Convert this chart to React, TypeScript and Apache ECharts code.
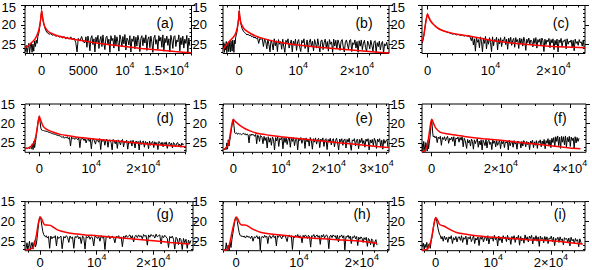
import React, { useEffect, useRef } from "react";
import * as echarts from "echarts";

// ---- data (x in units of 1000) ----
// Each black trace: an explicit part around the peak, then a uniformly sampled noisy band.
const aPeakX = [-1.95,-1.85,-1.75,-1.65,-1.55,-1.45,-1.35,-1.25,-1.15,-1.05,-0.95,-0.85,-0.75,-0.65,-0.55,-0.45,-0.35,-0.25,-0.15,-0.08,0,0.08,0.15,0.25,0.35,0.5,0.7,0.9,1.1,1.3,1.5,1.7,1.9,2.1,2.3,2.5,2.7,2.9,3.1,3.3,3.5,3.7,3.9,4.1,4.25,4.4,4.6,4.8,5.0];
const aPeakY = [26.9,25.3,27.2,25.9,24.8,27.2,25.5,24.6,27.1,25.0,26.8,24.2,25.6,23.9,24.8,22.9,22.2,20.9,19.2,17.8,16.5,17.6,18.6,19.6,20.5,21.5,22.1,22.4,22.3,22.7,22.5,23.0,22.7,23.2,22.9,23.4,23.0,23.6,23.2,23.7,23.1,23.9,23.4,24.6,27.0,23.5,24.2,23.0,24.4];
const aBandStart = 5.2, aBandStep = 0.12;
const aBandY = [24.6,23.1,25.8,22.9,24.2,26.7,23.4,22.8,25.1,23.6,27.0,23.2,24.5,22.7,26.1,23.9,23.0,25.6,22.6,24.8,26.4,23.3,22.9,25.0,23.7,27.1,22.8,24.1,23.5,26.0,22.7,25.3,23.1,24.4,26.8,22.6,23.8,25.7,23.0,24.9,22.5,26.5,23.4,23.9,25.2,22.8,27.0,23.6,24.3,22.9,26.2,23.2,25.5,22.7,24.0,26.9,23.5,22.8,25.4,23.3,24.7,22.6,26.6,23.7,23.1,25.9,22.9,24.5,27.1,23.4,22.7,25.0,23.8,26.3,22.8,24.2,23.2,25.8,22.6,26.8,23.5,24.6,22.9,25.3,23.6,27.0,22.7,24.0,26.1,23.1,22.8,25.6,23.9,24.4,22.6,26.7,23.3,25.1,22.9,26.0,23.7,24.8,22.7,27.1,23.4,25.4];
const aRedX = [-2,-1.5,-1,-0.7,-0.4,-0.2,-0.1,0,0.1,0.2,0.4,0.7,1,1.5,2,3,4,5,6,8,10,12,14,16,18];
const aRedY = [26.0,25.2,24.2,23.3,21.8,19.8,18.2,16.3,17.8,19.2,20.6,21.5,22.0,22.5,22.9,23.4,23.8,24.1,24.5,25.1,25.6,26.1,26.5,26.9,27.2];

const bPeakX = [-2.7,-2.6,-2.5,-2.4,-2.3,-2.2,-2.1,-2.0,-1.9,-1.8,-1.7,-1.6,-1.5,-1.4,-1.3,-1.2,-1.1,-1.0,-0.9,-0.8,-0.7,-0.6,-0.5,-0.4,-0.3,-0.2,-0.1,0,0.1,0.2,0.35,0.5,0.7,0.9,1.1,1.3,1.5,1.7,1.9,2.1,2.3,2.5,2.7,2.9,3.1,3.3,3.5,3.7,3.9,4.1,4.3];
const bPeakY = [26.2,24.6,27.1,25.0,26.5,24.3,27.2,25.4,24.8,26.9,24.4,25.9,27.0,24.1,25.5,26.8,23.9,25.2,27.1,24.0,24.9,23.2,22.6,22.0,21.0,19.6,18.0,16.4,17.8,19.0,20.2,21.0,21.6,22.0,22.2,22.6,22.4,22.8,22.6,23.1,22.9,23.4,23.1,23.6,23.3,24.8,23.5,23.8,23.4,25.6,23.7];
const bBandStart = 4.5, bBandStep = 0.18;
const bBandY = [24.4,26.2,23.7,25.1,27.0,23.9,24.8,26.5,23.6,25.4,24.1,26.9,23.8,25.0,24.3,26.3,23.7,25.7,27.1,24.0,24.6,23.6,26.0,24.9,23.9,27.0,24.2,25.3,23.7,26.6,24.4,23.8,25.8,26.9,24.0,24.7,23.6,26.1,25.2,23.9,27.1,24.5,23.7,25.6,24.2,26.7,23.8,24.9,26.0,23.6,25.3,27.0,24.1,23.9,26.4,24.6,23.7,25.9,24.3,26.8,23.8,25.0,24.4,27.1,23.7,25.5,24.0,26.2,23.9,24.8,26.6,24.2,23.8,25.7,27.0,24.5,23.9,25.2,26.3,24.0,23.8,26.9,24.6,25.1,23.9,26.0,24.3,27.1,24.1,25.5,23.9,26.4,24.7,24.0,25.8,27.0,24.2,24.9,26.2,24.0,25.3,26.8,24.4,24.1,27.1,24.6,25.6,24.2,26.5,24.8,24.3,27.2,24.9,25.4,24.5,26.3];
const bRedX = [-2.75,-2,-1.5,-1,-0.6,-0.3,-0.1,0,0.1,0.3,0.6,1,2,3,4,6,8,10,13,16,20,23,25.4];
const bRedY = [26.4,24.8,24.0,23.2,22.2,20.5,18.5,16.3,18.0,19.5,20.5,21.3,22.3,23.0,23.5,24.3,24.8,25.2,25.7,26.1,26.6,27.0,27.3];

const cPeakX = [-0.85,-0.7,-0.55,-0.4,-0.25,-0.12,0,0.12,0.3,0.5,0.75,1.0,1.3,1.6,1.9,2.2,2.5,2.8,3.1,3.4,3.7,4.0,4.3,4.6,4.9,5.2,5.5,5.8,6.1,6.4,6.65];
const cPeakY = [24.7,23.9,22.4,20.6,19.0,17.9,17.3,17.8,18.5,19.1,19.6,20.0,20.4,20.8,21.0,21.3,21.5,21.7,21.9,22.0,22.2,22.4,22.3,22.6,22.5,22.7,22.6,22.9,22.7,23.0,22.8];
const cBandStart = 6.8, cBandStep = 0.16;
const cBandY = [23.4,24.1,23.0,25.2,23.6,26.8,23.2,24.5,23.8,25.9,23.1,24.3,27.0,23.5,24.8,23.0,26.2,23.7,25.0,23.3,24.6,26.9,23.1,25.4,23.8,24.2,23.2,26.5,23.6,24.9,23.3,25.6,23.9,24.1,23.1,25.1,23.7,26.3,23.4,24.7,23.2,25.3,24.0,23.5,25.8,23.3,24.4,23.8,26.1,23.4,24.9,23.6,25.5,23.2,24.2,26.6,23.7,24.6,23.4,25.0,23.9,24.3,25.7,23.5,24.8,23.3,26.0,23.8,24.5,23.6,25.4,23.4,24.1,26.9,23.7,25.1,23.9,24.4,23.5,25.9,23.8,24.7,23.6,26.4,24.0,25.2,23.7,27.0,23.9,24.6,23.5,25.6,24.1,24.3,23.8,26.2,23.6,25.0,24.2,24.5,23.9,25.8,24.0,26.7,23.7,24.8,24.3,25.3,23.8,24.6,24.4,25.5,23.9,26.1];
const cRedX = [-0.9,-0.6,-0.4,-0.2,0,0.2,0.5,1,1.5,2,3,4,5,7,10,13,16,20,25];
const cRedY = [24.3,22.8,20.5,18.5,17.1,18.0,19.0,20.0,20.7,21.2,21.8,22.2,22.5,23.0,24.0,24.6,25.1,25.6,25.9];

const dPeakX = [-2.7,-2.5,-2.3,-2.1,-1.9,-1.7,-1.5,-1.35,-1.2,-1.05,-0.9,-0.75,-0.6,-0.45,-0.3,-0.15,0,0.15,0.3,0.45,0.6,0.8,1.0,1.3,1.6,1.9,2.2,2.5,2.8,3.1,3.4,3.7,4.0];
const dPeakY = [26.4,26.3,26.5,26.2,26.4,26.3,26.5,25.2,26.7,24.6,26.2,24.9,23.4,21.8,20.0,18.9,18.3,19.6,21.2,21.7,21.8,21.8,21.9,22.0,22.1,22.3,22.4,22.6,22.7,22.8,23.0,23.1,23.2];
const dBandStart = 4.2, dBandStep = 0.2;
const dBandY = [23.4,23.6,23.3,23.8,23.5,23.7,23.4,24.0,23.6,25.8,23.5,23.9,23.7,24.1,23.6,23.8,24.2,23.7,26.2,23.9,24.0,23.8,24.4,23.9,25.0,24.1,23.8,24.6,24.0,26.5,24.2,23.9,24.5,25.3,24.0,24.3,24.8,23.9,26.7,24.2,24.6,24.1,25.6,24.3,24.0,26.1,24.4,24.2,24.9,26.8,24.1,24.5,25.2,24.3,26.4,24.2,24.7,25.5,24.4,24.1,26.0,24.5,24.9,24.3,26.6,24.6,25.1,24.4,25.8,24.3,24.8,26.3,24.5,25.0,24.6,26.8,24.4,25.4,24.7,24.5,26.1,24.6,25.2,24.8,26.5,24.5,25.6,24.9,24.6,26.2,24.7,25.3,24.9,26.7,24.6,25.0,25.5,24.8,26.0,24.9,25.4,24.7,26.4,25.1,24.8,25.7,25.0,26.3,24.9,25.2,26.0,25.1,24.9,25.8,25.3,26.1,25.0,25.5,25.2];
const dRedX = [-2.75,-2,-1.2,-0.8,-0.5,-0.2,0,0.2,0.5,0.8,1.2,2,3,4,5,7,10,13,16,20,24,28.2];
const dRedY = [26.5,26.2,25.3,24.0,22.0,19.5,18.1,18.9,20.0,20.8,21.3,21.9,22.4,22.8,23.0,23.5,23.9,24.3,24.6,25.2,25.6,26.0];

const ePeakX = [-2.1,-1.95,-1.8,-1.65,-1.5,-1.35,-1.2,-1.05,-0.9,-0.75,-0.6,-0.45,-0.3,-0.15,0,0.15,0.3,0.5,0.7,0.9,1.1,1.3,1.5,1.7,1.9,2.1,2.3,2.5,2.7,2.9,3.1,3.3,3.5,3.7,3.9,4.1,4.3,4.5,4.7,4.9,5.1,5.3,5.5,5.7];
const ePeakY = [26.9,26.6,26.8,26.5,26.7,25.0,26.6,24.2,25.8,24.5,23.4,22.0,20.8,19.6,19.0,20.6,22.4,22.6,22.4,22.8,22.5,22.7,22.6,22.9,22.7,22.5,22.8,22.6,23.0,22.7,22.9,25.0,22.8,23.1,22.7,23.0,22.9,23.3,22.8,25.2,23.0,23.2,24.6,23.1];
const eBandStart = 6.0, eBandStep = 0.22;
const eBandY = [23.5,25.2,23.3,24.4,23.6,26.3,23.4,24.8,23.7,25.6,23.5,24.1,26.8,23.6,24.5,23.4,25.9,23.8,24.2,23.5,26.5,23.7,24.9,23.6,25.4,24.0,23.5,26.1,23.8,24.6,23.6,25.7,24.1,23.7,26.8,23.9,24.4,23.6,25.1,24.2,23.8,26.4,23.7,24.7,24.0,25.8,23.6,24.3,26.6,23.9,24.8,23.7,25.3,24.1,23.8,26.2,24.0,24.5,23.7,25.9,24.2,23.9,26.7,24.1,24.6,23.8,25.5,24.3,23.9,26.0,24.4,23.8,25.0,26.8,24.0,24.7,23.9,25.6,24.2,24.0,26.3,24.1,24.8,23.8,25.3,26.9,24.2,24.5,23.9,25.8,24.3,24.0,26.5,24.1,24.9,23.8,25.2,24.4,26.1,24.0,24.6,23.9,26.8,24.2,25.0,24.1,25.7,23.8,24.5,26.4,24.0,24.7,23.9,25.9,24.3,26.6,24.1,25.1,24.4,24.2,26.2];
const eRedX = [-2.15,-1.6,-1.1,-0.8,-0.5,-0.25,0,0.2,0.5,1.0,1.6,2.4,3.5,5.2,7.5,10,13,16,20,25,30,32.6];
const eRedY = [26.7,26.3,25.6,24.0,21.7,20.0,18.9,19.2,19.6,20.1,20.7,21.3,21.9,22.6,23.0,23.4,23.8,24.2,24.7,25.3,25.9,26.2];

const fPeakX = [-2.7,-2.5,-2.3,-2.1,-1.9,-1.7,-1.5,-1.3,-1.1,-0.9,-0.7,-0.5,-0.35,-0.2,-0.1,0,0.15,0.3,0.45,0.7,1.0,1.3,1.6,1.9,2.2,2.5,2.8,3.1,3.4,3.7,4.0,4.3,4.6,4.9,5.2,5.5,5.8,6.1,6.4,6.7,7.0,7.3,7.6,7.9,8.2,8.5,8.8,9.1,9.4,9.7];
const fPeakY = [25.2,27.0,24.6,26.3,27.2,24.9,25.8,27.1,24.4,26.5,25.0,23.6,22.0,20.4,19.4,19.0,20.6,22.5,23.4,23.2,23.7,23.3,24.9,23.5,23.9,23.3,25.6,23.6,24.1,23.4,24.5,23.7,23.3,25.1,23.8,24.2,23.5,24.6,23.4,25.8,23.7,24.0,23.5,24.8,23.6,24.3,23.4,26.0,23.8,24.4];
const fBandStart = 10.1, fBandStep = 0.28;
const fBandY = [26.4,24.1,25.0,24.3,25.8,24.0,24.6,26.6,24.2,25.2,24.4,24.0,26.1,24.5,25.5,24.2,26.8,24.3,24.9,25.7,24.1,26.3,24.6,24.3,25.4,24.8,26.7,24.2,25.1,24.5,26.0,24.4,25.6,24.9,24.3,26.5,24.6,25.2,24.4,26.2,24.7,25.0,24.5,26.8,24.3,25.7,24.8,24.6,26.1,24.4,25.3,24.9,26.6,24.5,25.1,24.7,26.3,24.6,25.8,24.4,24.9,26.0,24.6,25.4,24.8,26.7,24.5,25.0,24.3,26.2,24.7,25.6,24.4,26.4,24.6,24.9,24.2,26.0,24.5,25.3,24.1,26.5,24.4,25.1,23.9,25.8,24.2,26.2,23.8,24.9,23.6,26.0,23.4,24.6,23.2,25.7,23.5,26.4,23.3,24.8,23.4,25.5,23.2,26.1,23.6,24.7,23.3,25.9,23.5,24.4,23.7,26.3,23.4,25.0,23.6,24.6,23.8];
const fRedX = [-2.8,-2,-1.4,-1,-0.6,-0.3,0,0.3,0.7,1.2,2.4,4,7.2,10,15,20,25,30,35,40,43];
const fRedY = [27.3,27.0,26.0,24.3,21.8,20.0,18.9,19.4,20.3,21.2,22.2,22.6,23.0,23.4,23.9,24.3,24.8,25.3,25.8,26.3,26.5];

const gPeakX = [-2.6,-2.45,-2.3,-2.15,-2.0,-1.85,-1.7,-1.55,-1.4,-1.25,-1.1,-0.95,-0.8,-0.65,-0.5,-0.35,-0.2,-0.1,0,0.1,0.2,0.35,0.5,0.65,0.8,0.95,1.1,1.3,1.5,1.7,1.9,2.1,2.3,2.5,2.7,2.9,3.1,3.3,3.5,3.7,3.9];
const gPeakY = [27.2,26.8,25.4,27.1,26.2,25.0,27.2,26.0,25.3,27.0,25.6,24.9,26.4,25.8,24.0,22.0,20.0,19.2,18.8,19.0,19.8,21.3,22.6,23.3,23.7,23.9,23.6,24.2,23.8,26.8,23.7,24.4,23.9,24.1,23.6,26.2,23.8,24.3,24.0,23.7,26.9];
const gBandStart = 4.2, gBandStep = 0.22;
const gBandY = [23.8,24.2,23.6,24.0,25.3,23.7,24.3,23.9,26.8,23.8,24.1,23.6,24.4,23.9,25.6,23.7,24.0,27.0,23.8,24.2,23.6,24.5,23.9,24.1,26.2,23.7,23.9,24.3,23.8,25.0,23.6,24.2,23.9,27.1,23.8,24.0,23.6,24.4,23.9,23.7,24.2,25.4,23.8,24.0,23.6,24.3,23.9,26.4,23.7,24.1,23.5,24.0,23.7,23.4,24.2,23.6,25.2,23.8,23.5,24.1,23.4,23.9,23.6,24.4,23.3,23.8,23.5,26.0,23.4,24.0,23.3,23.7,23.5,24.2,23.2,23.9,23.6,23.4,25.7,23.6,24.1,23.5,23.9,24.3,26.6,23.8,24.2,23.7,24.5,27.0,24.0,24.4,25.9,24.2,24.6,27.1,24.3,25.4,24.5,26.8,24.7,25.6,24.8];
const gRedX = [-2.65,-1.8,-1.2,-0.9,-0.6,-0.3,0,0.3,0.6,0.9,1.2,1.8,2.4,2.9,3.8,4.7,6,8,10,13,16,20,23,26.4];
const gRedY = [27.3,27.0,26.6,25.2,23.2,20.5,18.9,19.4,20.4,20.9,20.9,21.0,21.5,22.0,22.5,22.8,23.1,23.4,23.6,24.0,24.4,24.9,25.3,25.7];

const hPeakX = [-2.0,-1.85,-1.7,-1.55,-1.4,-1.25,-1.1,-0.95,-0.8,-0.65,-0.5,-0.35,-0.2,-0.1,0,0.1,0.2,0.35,0.5,0.65,0.8,0.95,1.1,1.3,1.5,1.7,1.9,2.1,2.3,2.5,2.7,2.9,3.1,3.3,3.5,3.7,3.85,4.0];
const hPeakY = [27.3,27.1,27.3,25.4,27.2,26.0,27.3,25.2,26.6,24.5,23.0,21.5,20.0,19.3,18.9,19.2,20.0,21.5,22.8,23.5,23.8,23.6,23.9,23.7,24.2,23.6,24.0,23.8,24.3,23.7,25.0,23.9,24.1,23.6,24.4,23.8,27.2,24.0];
const hBandStart = 4.2, hBandStep = 0.17;
const hBandY = [23.8,24.2,23.5,24.0,23.7,25.6,23.8,23.6,24.3,23.9,23.5,24.1,23.7,26.2,23.6,24.0,23.4,23.9,24.4,23.6,23.8,23.5,24.2,25.1,23.7,23.4,24.0,23.6,27.1,23.8,24.1,23.5,23.9,23.3,24.2,23.6,23.8,25.4,23.5,24.0,23.4,23.7,24.3,23.5,23.9,26.5,23.6,23.8,23.3,24.1,23.7,23.4,24.0,23.6,25.8,23.5,23.9,23.3,24.2,23.6,23.4,24.0,26.9,23.7,23.5,24.1,23.4,23.8,23.6,24.4,23.5,25.2,23.7,23.9,23.4,24.2,23.6,27.2,23.8,24.0,23.5,24.3,23.7,25.6,23.9,24.1,23.6,24.4,23.8,26.1,24.0,24.5,23.9,24.2,25.3,24.1,24.6,24.0,26.3,24.3,24.7,25.9,24.4,24.8,26.5,25.2,24.6,26.0];
const hRedX = [-2.05,-1.4,-1.0,-0.7,-0.4,0,0.3,0.6,0.9,1.3,1.7,2.3,3,4,5.5,7.5,10,13,16,20,22.4];
const hRedY = [27.3,27.1,25.5,23.2,21.0,18.9,19.4,20.5,20.9,20.9,21.0,21.6,22.2,22.8,23.2,23.5,24.0,24.3,24.6,25.0,25.5];

const iPeakX = [-2.3,-2.15,-2.0,-1.85,-1.7,-1.55,-1.4,-1.25,-1.1,-0.95,-0.8,-0.65,-0.5,-0.35,-0.2,-0.1,0,0.1,0.2,0.35,0.5,0.65,0.8,0.95,1.1,1.3,1.5,1.7,1.9,2.1,2.3,2.5,2.7,2.9,3.1,3.3,3.5,3.7,3.9];
const iPeakY = [26.4,25.5,27.0,25.8,26.6,25.3,27.1,25.9,25.6,26.8,25.1,24.0,22.6,21.0,19.8,19.3,19.1,19.4,20.1,21.4,22.4,23.2,23.6,24.4,23.8,25.0,23.7,24.6,24.0,25.3,23.9,24.4,23.6,25.6,24.1,24.7,23.8,25.2,24.0];
const iBandStart = 4.1, iBandStep = 0.19;
const iBandY = [23.9,24.8,23.6,25.3,24.1,24.5,23.7,25.9,24.0,24.4,23.8,25.1,24.3,23.6,25.6,24.2,24.7,23.9,26.1,24.0,24.5,23.7,25.2,24.2,23.8,24.9,23.6,25.7,24.1,24.4,23.9,25.0,23.5,24.6,24.0,26.2,23.7,24.8,24.2,25.4,23.6,24.3,23.9,25.1,23.5,24.7,24.1,25.8,23.8,24.5,23.6,25.3,24.0,24.4,23.5,26.0,23.8,24.9,24.2,25.5,23.4,24.6,23.9,25.2,23.7,24.3,23.5,25.7,24.0,24.8,23.6,25.0,23.9,26.3,23.7,24.5,24.1,25.4,23.8,24.7,23.9,25.6,24.2,24.4,23.7,25.1,24.0,26.1,24.3,24.6,24.0,25.3,23.9,24.8,24.4,25.9,24.1,24.5,24.3,25.2,24.2,26.2,24.0,24.9,24.5,25.6,24.3,25.0,24.6,26.4,24.4,25.3,25.8];
const iRedX = [-2.38,-1.5,-1.0,-0.7,-0.4,-0.2,0,0.3,0.6,1.0,1.5,2.2,3.6,5,7,10,13,16,20,23,25.5];
const iRedY = [27.3,27.0,25.8,24.0,21.5,20.0,19.0,19.6,20.6,21.0,21.2,21.8,22.8,23.2,23.6,24.0,24.3,24.6,24.9,25.3,25.7];

const panelLabels = ["(a)", "(b)", "(c)", "(d)", "(e)", "(f)", "(g)", "(h)", "(i)"];
const yTicks = [15, 20, 25];
const xTicksA = [0, 5, 10, 15];
const xTicks2 = [0, 10, 20];
const xTicks3 = [0, 10, 20, 30];
const xTicks4 = [0, 20, 40];

// ---- layout ----
const FONT = "'Liberation Sans', Arial, Helvetica, sans-serif";
const Y_MIN = 15;
const Y_MAX = 27.4;

type Panel = {
  px: number[]; py: number[]; bs: number; bst: number; band: number[];
  rx: number[]; ry: number[];
  xMin: number; xMax: number; major: number[]; minorStep: number;
  box: [number, number, number, number];
  lab: [number, number];
  yMargin: number; xMargin: number; top: boolean;
};

const panels: Panel[] = [
  { px: aPeakX, py: aPeakY, bs: aBandStart, bst: aBandStep, band: aBandY, rx: aRedX, ry: aRedY, xMin: -2, xMax: 18, major: xTicksA, minorStep: 1, box: [25, 5.5, 191.5, 53.5], lab: [165, 23], yMargin: 9, xMargin: 6.5, top: true },
  { px: bPeakX, py: bPeakY, bs: bBandStart, bst: bBandStep, band: bBandY, rx: bRedX, ry: bRedY, xMin: -2.75, xMax: 25.4, major: xTicks2, minorStep: 2, box: [223, 5.5, 389, 53.5], lab: [364, 23], yMargin: 16, xMargin: 6.5, top: true },
  { px: cPeakX, py: cPeakY, bs: cBandStart, bst: cBandStep, band: cBandY, rx: cRedX, ry: cRedY, xMin: -0.88, xMax: 25, major: xTicks2, minorStep: 2, box: [422, 5.5, 585, 53.5], lab: [561, 23], yMargin: 17, xMargin: 6.5, top: true },
  { px: dPeakX, py: dPeakY, bs: dBandStart, bst: dBandStep, band: dBandY, rx: dRedX, ry: dRedY, xMin: -2.75, xMax: 28.2, major: xTicks2, minorStep: 2, box: [25, 104, 186, 152.3], lab: [165, 117.5], yMargin: 10, xMargin: 6, top: false },
  { px: ePeakX, py: ePeakY, bs: eBandStart, bst: eBandStep, band: eBandY, rx: eRedX, ry: eRedY, xMin: -2.15, xMax: 32.6, major: xTicks3, minorStep: 2, box: [223, 104, 389, 152.3], lab: [364, 117.5], yMargin: 16, xMargin: 6, top: false },
  { px: fPeakX, py: fPeakY, bs: fBandStart, bst: fBandStep, band: fBandY, rx: fRedX, ry: fRedY, xMin: -2.8, xMax: 44.6, major: xTicks4, minorStep: 5, box: [422, 104, 586, 152.3], lab: [560, 117.5], yMargin: 17, xMargin: 6, top: false },
  { px: gPeakX, py: gPeakY, bs: gBandStart, bst: gBandStep, band: gBandY, rx: gRedX, ry: gRedY, xMin: -2.65, xMax: 27, major: xTicks2, minorStep: 2, box: [25, 201.7, 193, 250.7], lab: [165, 214], yMargin: 10, xMargin: 1.5, top: false },
  { px: hPeakX, py: hPeakY, bs: hBandStart, bst: hBandStep, band: hBandY, rx: hRedX, ry: hRedY, xMin: -2.07, xMax: 24.3, major: xTicks2, minorStep: 2, box: [223, 201.7, 389, 250.7], lab: [362, 214], yMargin: 16, xMargin: 1.5, top: false },
  { px: iPeakX, py: iPeakY, bs: iBandStart, bst: iBandStep, band: iBandY, rx: iRedX, ry: iRedY, xMin: -2.38, xMax: 25.9, major: xTicks2, minorStep: 2, box: [422, 201.7, 585, 250.7], lab: [560, 214], yMargin: 17, xMargin: 1.5, top: false },
];

function stepValues(min: number, max: number, step: number): number[] {
  const out: number[] = [];
  for (let v = Math.ceil(min / step - 1e-9) * step; v <= max + 1e-9; v += step) out.push(+v.toFixed(4));
  return out;
}

function fmtX(v: number): string {
  const n = Math.round(v * 1000);
  if (n === 0) return "{n|0}";
  if (n === 5000) return "{n|5000}";
  const m = n / 10000;
  if (m === 1) return "{n|10}{s|4}";
  return `{n|${m}\u00d710}{s|4}`;
}

const richX = {
  n: { fontSize: 13, fontFamily: FONT, color: "#000", lineHeight: 17, verticalAlign: "bottom" },
  s: { fontSize: 9, fontFamily: FONT, color: "#000", lineHeight: 10, verticalAlign: "top" },
};
const richY = {
  t: { fontSize: 13, fontFamily: FONT, color: "#000", padding: [3, 0, 0, 0] },
};

function buildOption() {
  const grid: any[] = [];
  const xAxis: any[] = [];
  const yAxis: any[] = [];
  const series: any[] = [];
  const graphic: any[] = [];
  const tickLine = { color: "#000", width: 1 };

  panels.forEach((p, i) => {
    const [l, t, r, b] = p.box;
    grid.push({ left: l, top: t, width: r - l, height: b - t, show: true, borderColor: "#000", borderWidth: 1, backgroundColor: "transparent", containLabel: false, outerBoundsMode: "none" });
    const minor = stepValues(p.xMin, p.xMax, p.minorStep).filter((v) => !p.major.includes(v));
    const xBase = { type: "value", gridIndex: i, min: p.xMin, max: p.xMax, axisLine: { show: false, onZero: false }, splitLine: { show: false } };
    const xi = xAxis.length;
    xAxis.push({ ...xBase, position: "bottom", axisTick: { show: true, customValues: p.major, inside: false, length: 4, lineStyle: tickLine }, axisLabel: { show: true, customValues: p.major, margin: p.xMargin, formatter: fmtX, rich: richX } });
    xAxis.push({ ...xBase, position: "bottom", axisTick: { show: true, customValues: minor, inside: false, length: 2, lineStyle: tickLine }, axisLabel: { show: false } });
    xAxis.push({ ...xBase, position: "top", axisTick: { show: true, customValues: p.major, inside: true, length: 4, lineStyle: tickLine }, axisLabel: { show: false } });
    xAxis.push({ ...xBase, position: "top", axisTick: { show: true, customValues: minor, inside: true, length: 2, lineStyle: tickLine }, axisLabel: { show: false } });

    const yMinor = stepValues(Y_MIN, Y_MAX, 1).filter((v) => !yTicks.includes(v));
    const yBase = { type: "value", gridIndex: i, min: Y_MIN, max: Y_MAX, inverse: true, axisLine: { show: false, onZero: false }, splitLine: { show: false } };
    const yi = yAxis.length;
    yAxis.push({
      ...yBase, position: "left",
      axisTick: { show: true, customValues: yTicks, inside: false, length: 4, lineStyle: tickLine },
      axisLabel: {
        show: true, customValues: yTicks, margin: p.yMargin, fontSize: 13, fontFamily: FONT, color: "#000",
        formatter: (v: number) => (p.top && v === 15 ? "{t|15}" : String(v)), rich: richY,
      },
    });
    yAxis.push({ ...yBase, position: "left", axisTick: { show: true, customValues: yMinor, inside: false, length: 2, lineStyle: tickLine }, axisLabel: { show: false } });
    yAxis.push({ ...yBase, position: "right", axisTick: { show: true, customValues: yTicks, inside: false, length: 4, lineStyle: tickLine }, axisLabel: { show: false } });
    yAxis.push({ ...yBase, position: "right", axisTick: { show: true, customValues: yMinor, inside: true, length: 2, lineStyle: tickLine }, axisLabel: { show: false } });

    const black = p.px.map((x, k) => [x, p.py[k]]).concat(p.band.map((y, k) => [+(p.bs + k * p.bst).toFixed(3), y]));
    series.push({
      type: "line", xAxisIndex: xi, yAxisIndex: yi, showSymbol: false, symbol: "none",
      lineStyle: { color: "#000", width: 1 }, data: black, z: 2,
    });
    series.push({
      type: "line", xAxisIndex: xi, yAxisIndex: yi, showSymbol: false, symbol: "none", smooth: 0.2,
      lineStyle: { color: "#ff0000", width: 1.5 }, data: p.rx.map((x, k) => [x, p.ry[k]]), z: 3,
    });
    graphic.push({
      type: "text", x: p.lab[0], y: p.lab[1],
      style: { text: panelLabels[i], fontSize: 14, fontFamily: FONT, fill: "#000", align: "center", verticalAlign: "middle", textAlign: "center", textVerticalAlign: "middle" },
    });
  });

  return { animation: false, backgroundColor: "#fff", grid, xAxis, yAxis, series, graphic };
}

export default function App() {
  const ref = useRef<HTMLDivElement>(null);
  useEffect(() => {
    if (!ref.current) return;
    const chart = echarts.init(ref.current, null, { renderer: "svg" });
    chart.setOption(buildOption() as any);
    return () => chart.dispose();
  }, []);
  return <div ref={ref} style={{ position: "absolute", left: 0, top: 0, width: 592, height: 270 }} />;
}
